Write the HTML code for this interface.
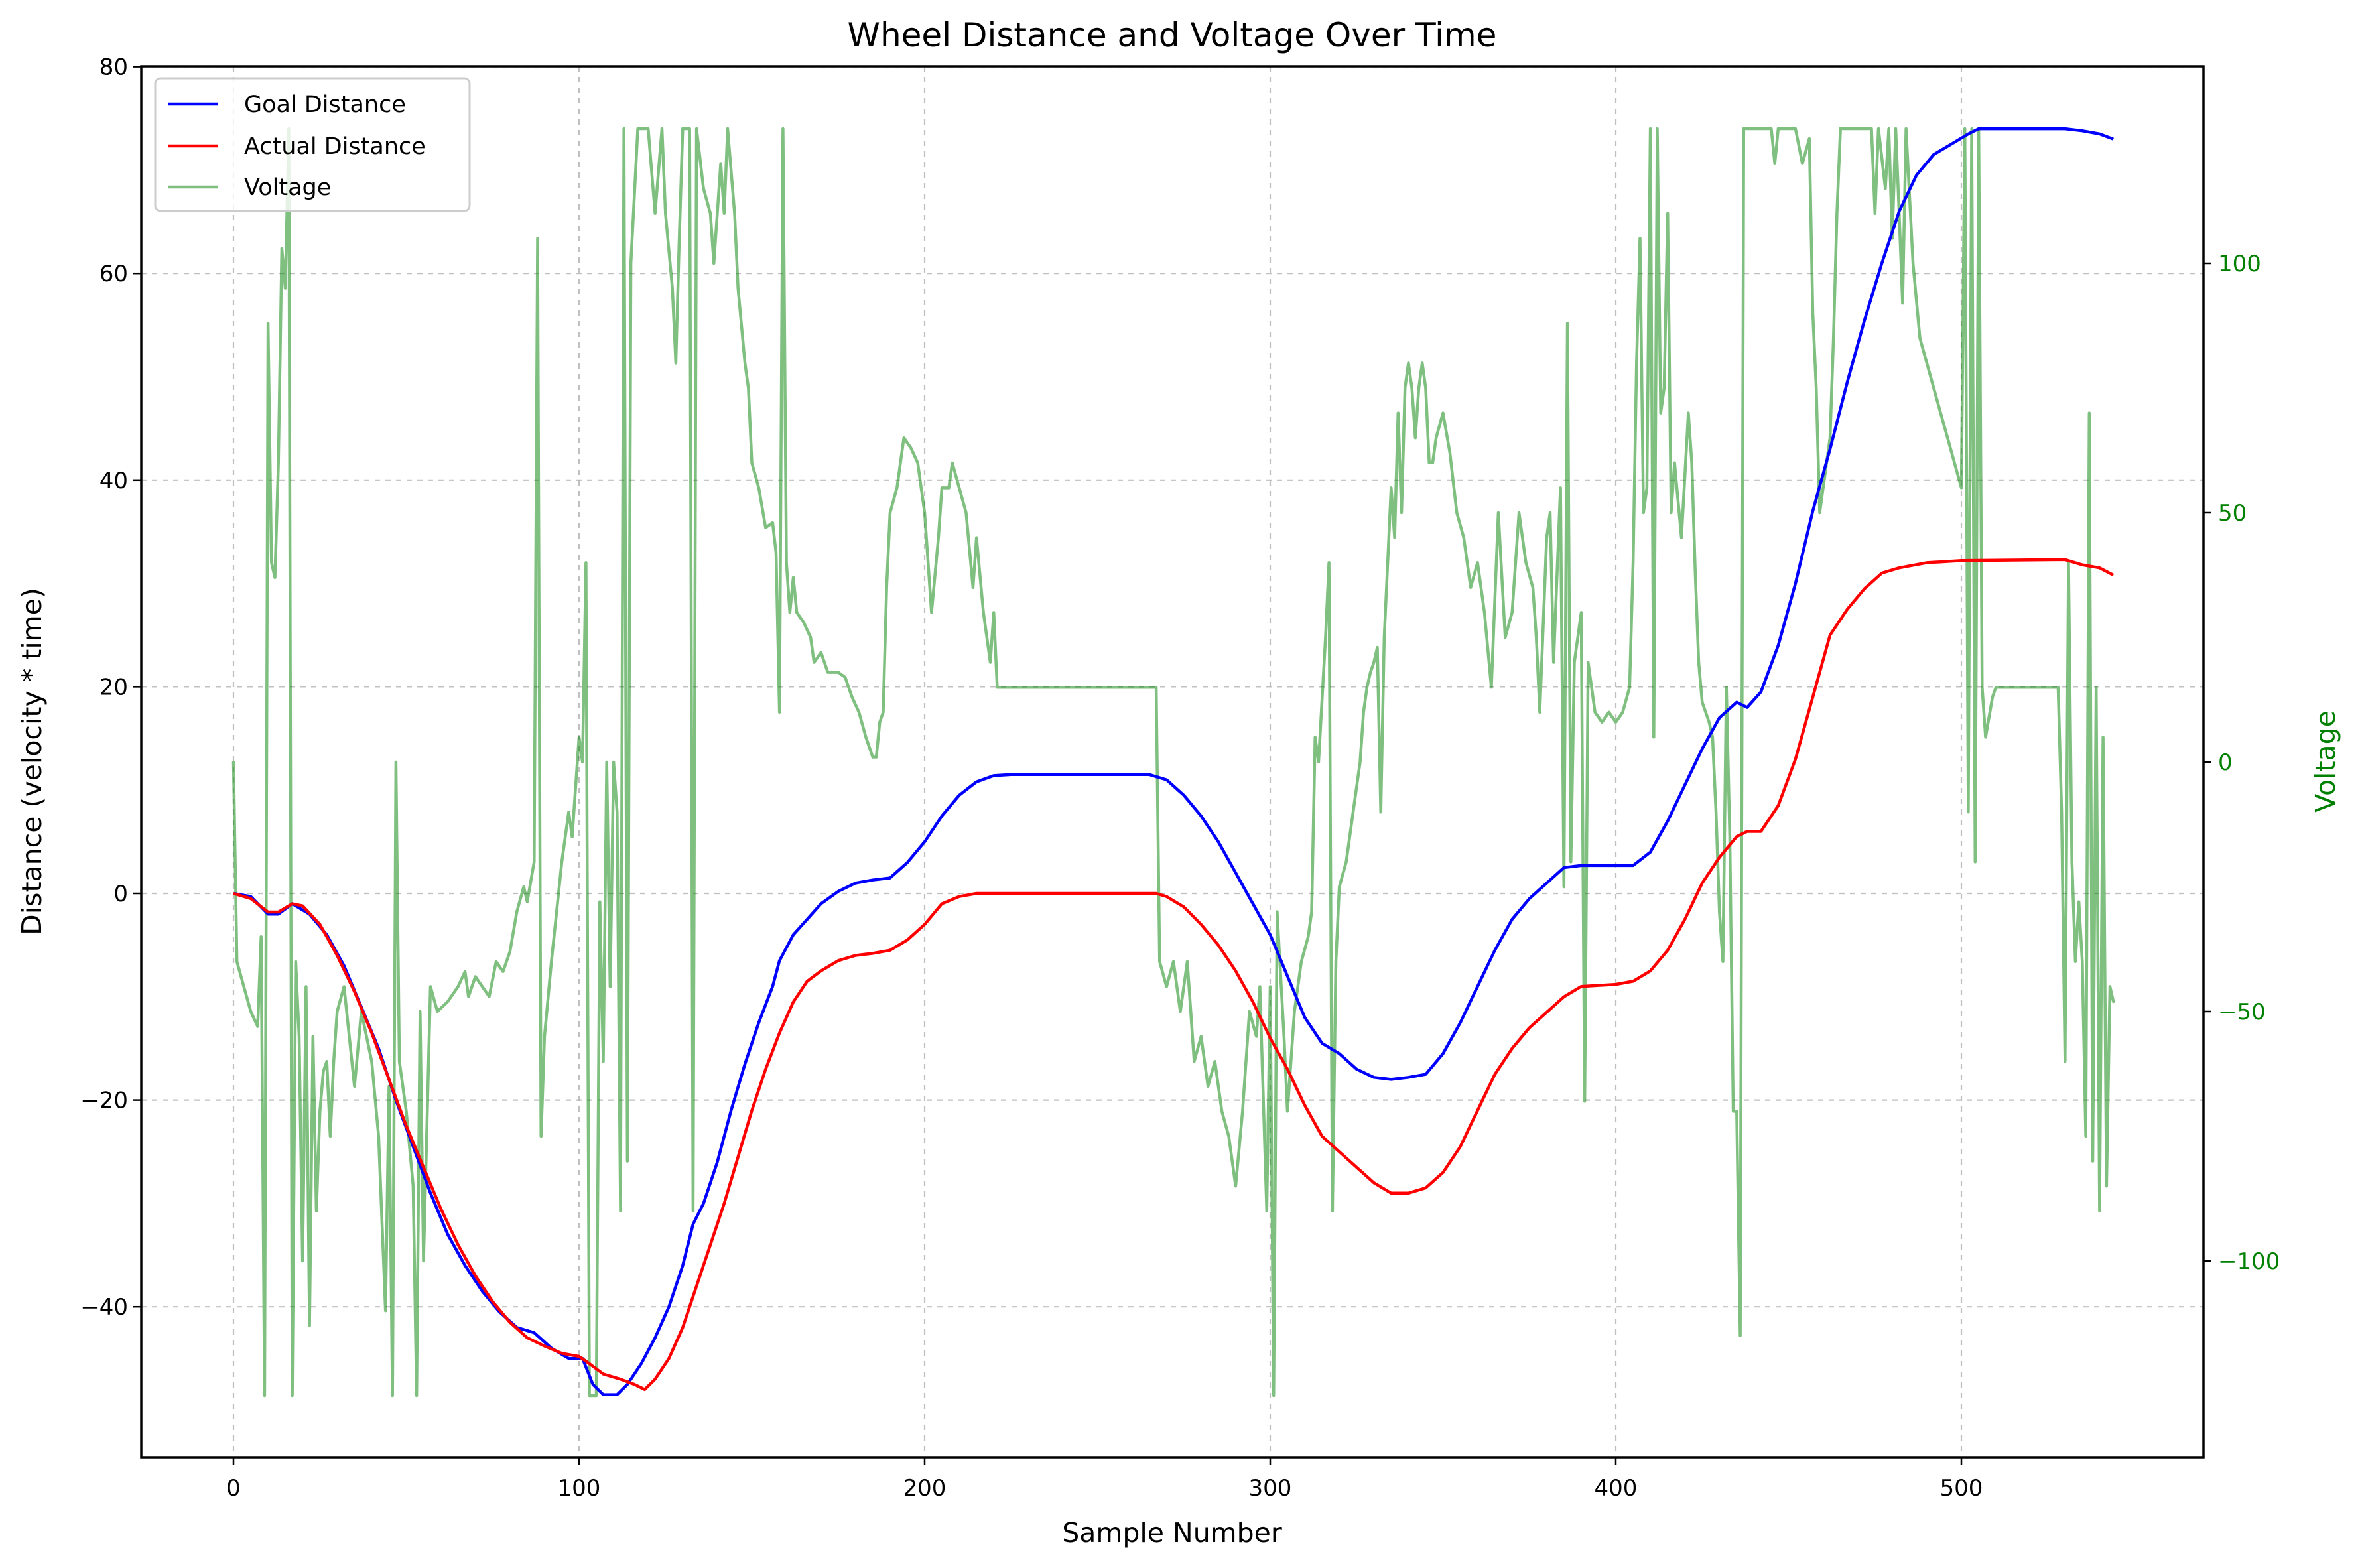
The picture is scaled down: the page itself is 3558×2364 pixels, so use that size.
<!DOCTYPE html>
<html><head><meta charset="utf-8">
<style>
html,body{margin:0;padding:0;background:#fff;}
svg{display:block;font-family:"DejaVu Sans","Liberation Sans",sans-serif;}
</style></head>
<body>
<svg id="chart" width="3558" height="2364" viewBox="0 0 3558 2364" xmlns="http://www.w3.org/2000/svg">
<defs><clipPath id="plotclip"><rect x="213" y="100" width="3109" height="2097"/></clipPath></defs>
<rect x="0" y="0" width="3558" height="2364" fill="#fff"/>
<text x="1767" y="70" font-size="50" text-anchor="middle">Wheel Distance and Voltage Over Time</text>
<g id="grid"></g>
<g id="series" clip-path="url(#plotclip)"></g>
<rect x="213" y="100" width="3109" height="2097" fill="none" stroke="#000" stroke-width="3.5"/>
<g id="axes"></g>
<text x="1767" y="2325" font-size="41" text-anchor="middle">Sample Number</text>
<text x="0" y="0" font-size="41" text-anchor="middle" transform="translate(62,1148) rotate(-90)">Distance (velocity * time)</text>
<text x="0" y="0" font-size="41" fill="#008000" text-anchor="middle" transform="translate(3520,1148) rotate(-90)">Voltage</text>
<g id="legend">
<rect x="234" y="118" width="474" height="200" rx="8" fill="#fff" fill-opacity="0.8" stroke="#ccc" stroke-width="3"/>
<line x1="254" y1="157" x2="329" y2="157" stroke="#0000ff" stroke-width="4.5"/>
<text x="368" y="169" font-size="35">Goal Distance</text>
<line x1="254" y1="220" x2="329" y2="220" stroke="#ff0000" stroke-width="4.5"/>
<text x="368" y="232" font-size="35">Actual Distance</text>
<line x1="254" y1="282" x2="329" y2="282" stroke="#008000" stroke-opacity="0.5" stroke-width="4.5"/>
<text x="368" y="294" font-size="35">Voltage</text>
</g>
</svg>
<script>
const xTicks = [0, 100, 200, 300, 400, 500];
const yTicks = [-40, -20, 0, 20, 40, 60, 80];
const y2Ticks = [-100, -50, 0, 50, 100];

const goalX = [0,5,10,13,17,22,27,32,37,42,47,52,57,62,67,72,77,82,87,92,97,101,104,107,111,114,118,122,126,130,133,136,140,144,148,152,156,158,162,166,170,175,180,185,190,195,200,205,210,215,220,225,265,270,275,280,285,290,295,300,305,310,315,320,325,330,335,340,345,350,355,360,365,370,375,380,385,390,405,410,415,420,425,430,435,438,442,447,452,457,462,467,472,477,482,487,492,497,502,505,530,535,540,544];
const goalY = [0,-0.3,-2,-2,-1,-2,-4,-7,-11,-15,-20,-24.5,-29,-33,-36,-38.5,-40.5,-42,-42.5,-44,-45,-45,-47.5,-48.5,-48.5,-47.5,-45.5,-43,-40,-36,-32,-30,-26,-21,-16.5,-12.5,-9,-6.5,-4,-2.5,-1,0.2,1,1.3,1.5,3,5,7.5,9.5,10.8,11.4,11.5,11.5,11,9.5,7.5,5,2,-1,-4,-8,-12,-14.5,-15.5,-17,-17.8,-18,-17.8,-17.5,-15.5,-12.5,-9,-5.5,-2.5,-0.5,1,2.5,2.7,2.7,4,7,10.5,14,17,18.5,18,19.5,24,30,37,43,49.5,55.5,61,66,69.5,71.5,72.5,73.5,74,74,73.8,73.5,73];

const actualX = [0,5,10,13,17,20,25,30,35,40,45,50,55,60,65,70,75,80,85,90,95,100,103,107,112,116,119,122,126,130,134,138,142,146,150,154,158,162,166,170,175,180,185,190,195,200,205,210,215,267,270,275,280,285,290,295,300,305,310,315,320,325,330,335,340,345,350,355,360,365,370,375,380,385,390,400,405,410,415,420,425,430,435,438,442,447,452,457,462,467,472,477,482,490,500,530,535,540,544];
const actualY = [0,-0.5,-1.8,-1.8,-1,-1.2,-3,-6,-9.5,-13.5,-18,-22.5,-26.5,-30.5,-34,-37,-39.5,-41.5,-43,-43.8,-44.5,-44.8,-45.5,-46.5,-47,-47.5,-48,-47,-45,-42,-38,-34,-30,-25.5,-21,-17,-13.5,-10.5,-8.5,-7.5,-6.5,-6,-5.8,-5.5,-4.5,-3,-1,-0.3,0,0,-0.3,-1.3,-3,-5,-7.5,-10.5,-14,-17,-20.5,-23.5,-25,-26.5,-28,-29,-29,-28.5,-27,-24.5,-21,-17.5,-15,-13,-11.5,-10,-9,-8.8,-8.5,-7.5,-5.5,-2.5,1,3.5,5.5,6,6,8.5,13,19,25,27.5,29.5,31,31.5,32,32.2,32.3,31.8,31.5,30.8];

const voltX = [0,1,3,5,7,8,9,10,11,12,13,14,15,16,17,18,19,20,21,22,23,24,25,26,27,28,29,30,32,35,37,40,42,44,45,46,47,48,50,52,53,54,55,57,59,62,65,67,68,70,72,74,76,78,80,82,84,85,87,88,89,90,92,95,97,98,100,101,102,103,105,106,107,108,109,110,111,112,113,114,115,117,120,122,124,125,127,128,129,130,132,133,134,136,138,139,141,142,143,145,146,148,149,150,152,154,156,157,158,159,160,161,162,163,165,167,168,170,172,175,177,179,181,183,185,186,187,188,189,190,192,194,196,198,199,200,202,204,205,207,208,210,212,214,215,217,219,220,221,222,267,268,270,272,274,276,278,280,282,284,286,288,290,292,294,296,297,299,300,301,302,304,305,307,309,311,312,313,314,316,317,318,319,320,322,324,326,327,328,329,330,331,332,333,334,335,336,337,338,339,340,341,342,343,344,345,346,347,348,350,352,354,356,358,360,362,364,366,368,370,372,374,376,377,378,380,381,382,384,385,386,387,388,390,391,392,394,396,398,400,402,404,405,406,407,408,409,410,411,412,413,414,415,416,417,419,421,422,423,424,425,427,428,429,430,431,432,433,434,435,436,437,445,446,447,452,454,456,457,458,459,460,461,462,463,464,465,474,475,476,478,479,480,481,482,483,484,486,488,490,492,494,496,498,500,501,502,503,504,505,506,507,509,510,528,529,530,531,532,533,534,535,536,537,538,539,540,541,542,543,544];
const voltY = [0,-40,-45,-50,-53,-35,-127,88,40,37,60,103,95,127,-127,-40,-55,-100,-45,-113,-55,-90,-70,-62,-60,-75,-60,-50,-45,-65,-50,-60,-75,-110,-65,-127,0,-60,-70,-85,-127,-50,-100,-45,-50,-48,-45,-42,-47,-43,-45,-47,-40,-42,-38,-30,-25,-28,-20,105,-75,-55,-40,-20,-10,-15,5,0,40,-127,-127,-28,-60,0,-45,0,-10,-90,127,-80,100,127,127,110,127,110,95,80,105,127,127,-90,127,115,110,100,120,110,127,110,95,80,75,60,55,47,48,42,10,127,40,30,37,30,28,25,20,22,18,18,17,13,10,5,1,1,8,10,35,50,55,65,63,60,55,50,30,45,55,55,60,55,50,35,45,30,20,30,15,15,15,-40,-45,-40,-50,-40,-60,-55,-65,-60,-70,-75,-85,-70,-50,-55,-45,-90,-45,-127,-30,-55,-70,-50,-40,-35,-30,5,0,25,40,-90,-40,-25,-20,-10,0,10,15,18,20,23,-10,25,40,55,45,70,50,75,80,75,65,75,80,75,60,60,65,70,62,50,45,35,40,30,15,50,25,30,50,40,35,25,10,45,50,20,55,-25,88,-20,20,30,-68,20,10,8,10,8,10,15,40,80,105,50,55,127,5,127,70,75,110,50,60,45,70,60,38,20,12,8,5,-10,-30,-40,15,-15,-70,-70,-115,127,127,120,127,127,120,125,90,75,50,55,60,65,85,110,127,127,110,127,115,127,105,127,110,92,127,100,85,80,75,70,65,60,55,127,-10,127,-20,127,15,5,13,15,15,-10,-60,40,-20,-40,-28,-40,-75,70,-80,15,-90,5,-85,-45,-48];

const PL = 213, PR = 3322, PT = 100, PB = 2197;
const X0 = 352, XPER = 5.21;
function sx(v){ return X0 + v * XPER; }
function sy(v){ return 1347 - v * 15.58; }
function sy2(v){ return 1149 - v * 7.52; }

const NS = 'http://www.w3.org/2000/svg';
function mk(tag, attrs, parent){
  const e = document.createElementNS(NS, tag);
  for (const k in attrs) e.setAttribute(k, attrs[k]);
  parent.appendChild(e);
  return e;
}
const grid = document.getElementById('grid');
const axes = document.getElementById('axes');
const series = document.getElementById('series');

xTicks.forEach(t => {
  const x = sx(t);
  const g = mk('line', {x1:x, y1:PT, x2:x, y2:PB, stroke:'#b0b0b0', 'stroke-width':2.2, 'stroke-dasharray':'8,8', 'stroke-opacity':0.8}, grid);
  
  
  const tk = mk('line', {x1:x, y1:PB, x2:x, y2:PB+12, stroke:'#000', 'stroke-width':2.5}, axes);
  
  
  const lb = mk('text', {x:x, y:PB+58, 'font-size':34, 'text-anchor':'middle'}, axes);
  lb.textContent = String(t);
  
  
});
yTicks.forEach(t => {
  const y = sy(t);
  const g = mk('line', {x1:PL, y1:y, x2:PR, y2:y, stroke:'#b0b0b0', 'stroke-width':2.2, 'stroke-dasharray':'8,8', 'stroke-opacity':0.8}, grid);
  
  
  const tk = mk('line', {x1:PL-12, y1:y, x2:PL, y2:y, stroke:'#000', 'stroke-width':2.5}, axes);
  
  
  const lb = mk('text', {x:PL-20, y:y+12, 'font-size':34, 'text-anchor':'end'}, axes);
  lb.textContent = t < 0 ? '\u2212' + Math.abs(t) : String(t);
  
  
});
y2Ticks.forEach(t => {
  const y = sy2(t);
  const tk = mk('line', {x1:PR, y1:y, x2:PR+12, y2:y, stroke:'#000', 'stroke-width':2.5}, axes);
  
  
  const lb = mk('text', {x:PR+22, y:y+12, 'font-size':34, fill:'#008000'}, axes);
  lb.textContent = t < 0 ? '\u2212' + Math.abs(t) : String(t);
  
  
});

function pathFrom(xs, ys, fy){
  return xs.map((v,i) => (i ? 'L' : 'M') + sx(v).toFixed(1) + ',' + fy(ys[i]).toFixed(1)).join(' ');
}
const vl = mk('path', {d:pathFrom(voltX, voltY, sy2), fill:'none', stroke:'#008000', 'stroke-opacity':0.5, 'stroke-width':4.5, 'stroke-linejoin':'round', 'stroke-linecap':'round'}, series);


const gl = mk('path', {d:pathFrom(goalX, goalY, sy), fill:'none', stroke:'#0000ff', 'stroke-width':4.5, 'stroke-linejoin':'round'}, series);


const al = mk('path', {d:pathFrom(actualX, actualY, sy), fill:'none', stroke:'#ff0000', 'stroke-width':4.5, 'stroke-linejoin':'round'}, series);


</script>
</body></html>
